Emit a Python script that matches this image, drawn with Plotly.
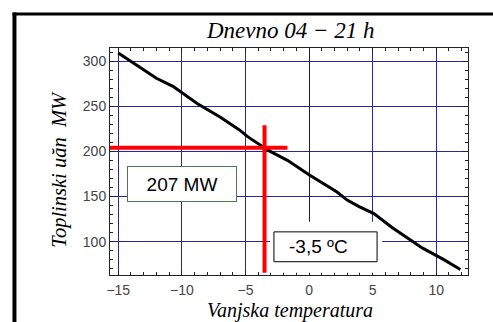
import plotly.graph_objects as go

# ---- data ----
temperature = [-15, -13.5, -12, -10.7, -9.5, -8.8, -7, -5.5, -4.8, -3.2, -1.7, 0,
               2.2, 3, 3.9, 5.1, 6.5, 8, 8.9, 10.6, 11.9]
load_mw = [309, 295, 281, 272, 260, 253, 238, 224, 216, 201, 190, 174,
           155, 146, 139, 131, 116, 102, 93, 80, 69]

x_ticks = [-15, -10, -5, 0, 5, 10]
y_ticks = [100, 150, 200, 250, 300]

marker_temp = -3.5
marker_load = 204
load_label = "207 MW"
temp_label = "-3,5 ºC"
title_text = "Dnevno 04 − 21 h"
x_title = "Vanjska temperatura"
y_title = "Toplinski uăn  MW"

x_range = [-15.65, 12.5]
y_range = [63, 314.5]

fig = go.Figure()
fig.add_trace(go.Scatter(x=temperature, y=load_mw, mode="lines",
                         line=dict(color="black", width=3), showlegend=False,
                         hoverinfo="skip"))

grid = "#27279a"
tickfont = dict(family="Liberation Sans, Arial", size=14, color="#444")
axis_common = dict(showline=True, linecolor="#222", linewidth=1, mirror="ticks",
                   ticks="inside", ticklen=5, tickcolor="#222", tickwidth=1,
                   showgrid=True, gridcolor=grid, gridwidth=1, tickfont=tickfont)

fig.update_layout(
    xaxis=dict(range=x_range, tickvals=x_ticks, zeroline=True,
               zerolinecolor="#1a1a40", zerolinewidth=1, ticklabelstandoff=2,
               minor=dict(dtick=1, ticks="inside", ticklen=3, tickcolor="#222", showgrid=False),
               **axis_common),
    yaxis=dict(range=y_range, tickvals=y_ticks, zeroline=False,
               minor=dict(dtick=10, ticks="inside", ticklen=3, tickcolor="#222", showgrid=False),
               **axis_common),
    # overlay axis only to draw the darker 100 MW grid line
    yaxis2=dict(range=y_range, overlaying="y", side="left", tickvals=[100],
                showticklabels=False, ticks="", showgrid=True, gridcolor="#1a1a40",
                gridwidth=1.3, zeroline=False, showline=False),
)

shapes = [
    # white cover behind temperature box
    dict(type="rect", xref="x", yref="y", x0=-3.07, x1=5.75, y0=65.5, y1=122,
         fillcolor="white", line=dict(width=0), layer="above"),
    # temperature box frame
    dict(type="rect", xref="x", yref="y", x0=-2.76, x1=5.35, y0=77.7, y1=110.8,
         fillcolor="white", line=dict(color="black", width=1), layer="above"),
    # red crosshair
    dict(type="line", xref="x", yref="y", x0=-15.8, x1=-1.7, y0=marker_load, y1=marker_load,
         line=dict(color="#ff0000", width=4), layer="above"),
    dict(type="line", xref="x", yref="y", x0=marker_temp, x1=marker_temp, y0=65.5, y1=229,
         line=dict(color="#ff0000", width=4), layer="above"),
    # outer frame (top and left edges)
    dict(type="line", xref="paper", yref="paper", x0=-0.272, x1=1.08, y0=1.1498, y1=1.1498,
         line=dict(color="black", width=3), layer="above"),
    dict(type="line", xref="paper", yref="paper", x0=-0.2669, x1=-0.2669, y0=1.156, y1=-0.21,
         line=dict(color="black", width=4), layer="above"),
]

serif = "Liberation Serif, Times New Roman"
sans = "Liberation Sans, Arial"
annotations = [
    dict(text=f"<i>{title_text}</i>", xref="paper", yref="paper", x=0.503, y=1.079,
         xanchor="center", yanchor="middle", showarrow=False,
         font=dict(family=serif, size=23, color="black")),
    dict(text=f"<i>{x_title}</i>", xref="paper", yref="paper", x=0.503, y=-0.155,
         xanchor="center", yanchor="middle", showarrow=False,
         font=dict(family=serif, size=20, color="black")),
    dict(text=f"<i>{y_title}</i>", xref="paper", yref="paper", x=-0.14, y=0.468,
         xanchor="center", yanchor="middle", showarrow=False, textangle=-90,
         font=dict(family=serif, size=20.5, color="black")),
    dict(text=load_label, xref="x", yref="y", x=-10.0, y=164, showarrow=False,
         xanchor="center", yanchor="middle",
         bgcolor="white", bordercolor="#4a7a4a", borderwidth=1, borderpad=0,
         width=108, height=34,
         font=dict(family=sans, size=19, color="black")),
    dict(text=temp_label, xref="x", yref="y", x=0.71, y=94.5, showarrow=False,
         xanchor="center", yanchor="middle",
         font=dict(family=sans, size=19, color="black")),
]

fig.update_layout(width=493, height=322, margin=dict(l=110, r=25, t=48, b=47),
                  plot_bgcolor="white", paper_bgcolor="white",
                  shapes=shapes, annotations=annotations, showlegend=False)

fig.write_html("out.html")
